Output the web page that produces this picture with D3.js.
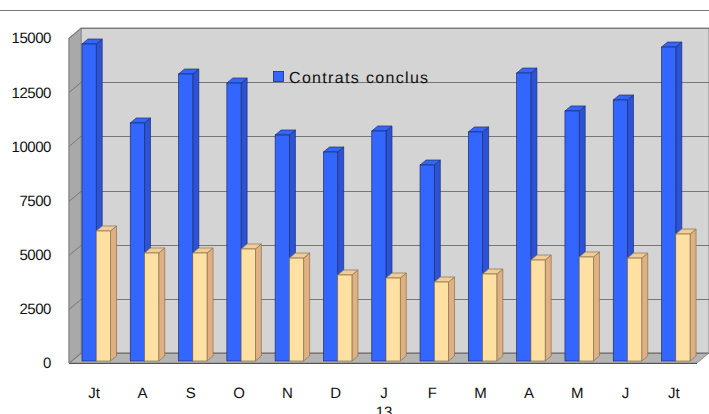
<!DOCTYPE html>
<html><head><meta charset="utf-8">
<script src="https://cdn.jsdelivr.net/npm/d3@7/dist/d3.min.js"></script>
<style>html,body{margin:0;padding:0;background:#fff;overflow:hidden}svg{display:block}text{font-family:"Liberation Sans",Arial,sans-serif;fill:#111;text-rendering:geometricPrecision}</style>
</head><body><script>
const categories=["Jt","A","S","O","N","D","J","F","M","A","M","J","Jt"];
const contrats=[14630,10985,13245,12830,10430,9645,10615,9045,10570,13290,11540,12045,14490];
const second=[6000,4985,4985,5170,4750,3970,3830,3645,4015,4660,4800,4750,5860];
const yTicks=[0,2500,5000,7500,10000,12500,15000];
const legendLabel="Contrats conclus";
const footLabel="13";

const W=709,H=414;
const svg=d3.select("body").append("svg").attr("width",W).attr("height",H);
const L=69,R=697,T=38,B=363,dx=12,dy=10;
const y=d3.scaleLinear().domain([0,15000]).range([B,T]);
const x=d3.scaleBand().domain(d3.range(categories.length)).range([72.3,699.7]).paddingInner(0.41).paddingOuter(0.2);
const sub=d3.scaleBand().domain([0,1]).range([0,x.bandwidth()]);

svg.append("line").attr("x1",0).attr("x2",W).attr("y1",10.5).attr("y2",10.5).attr("stroke","#777").attr("stroke-width",1);

// walls
svg.append("rect").attr("x",L+dx).attr("y",T-dy).attr("width",R-L).attr("height",B-T).attr("fill","#d4d4d4").attr("stroke","#8c8c8c").attr("stroke-width",1);
svg.append("path").attr("d",`M${L},${T}L${L+dx},${T-dy}V${B-dy}L${L},${B}Z`).attr("fill","#a9a9a9").attr("stroke","#8c8c8c");
svg.append("path").attr("d",`M${L},${B}L${L+dx},${B-dy}H${R+dx}L${R},${B}Z`).attr("fill","#b4b4b4").attr("stroke","#8c8c8c");
// gridlines
yTicks.forEach(t=>{
  svg.append("path").attr("fill","none").attr("stroke","#777").attr("stroke-width",1)
    .attr("d",`M${L},${Math.round(y(t))+.5}L${L+dx},${Math.round(y(t)-dy)+.5}H${R+dx}`);
});
svg.append("line").attr("x1",L).attr("x2",R).attr("y1",B+.5).attr("y2",B+.5).attr("stroke","#555");
svg.append("line").attr("x1",L).attr("x2",L).attr("y1",T).attr("y2",B).attr("stroke","#8c8c8c");

// y labels
svg.selectAll("text.yl").data(yTicks).join("text").attr("class","yl")
  .attr("x",51).attr("y",d=>y(d)).attr("dy","0.36em").attr("text-anchor","end")
  .attr("font-size",15).attr("letter-spacing","-0.45px").text(d=>d);

const base=2, d3x=6, d3y=5;
function bar3d(vals,idx,front,side,top,edge){
  const g=svg.append("g");
  vals.forEach((v,i)=>{
    const x0=x(i)+sub(idx), w=sub.bandwidth(), y0=y(v)-base, y1=B-base;
    g.append("path").attr("d",`M${x0+w},${y0}l${d3x},${-d3y}V${y1-d3y}l${-d3x},${d3y}Z`).attr("fill",side).attr("stroke",edge).attr("stroke-width",.7);
    g.append("path").attr("d",`M${x0},${y0}l${d3x},${-d3y}h${w}l${-d3x},${d3y}Z`).attr("fill",top).attr("stroke",edge).attr("stroke-width",.7);
    g.append("rect").attr("x",x0).attr("y",y0).attr("width",w).attr("height",y1-y0).attr("fill",front).attr("stroke",edge).attr("stroke-width",.7);
  });
}
bar3d(contrats,0,"#3366ff","#2c52d8","#3366ff","#1f2f66");
bar3d(second,1,"#ffe0a3","#e0b083","#f2cc96","#85724f");

// x labels
svg.selectAll("text.xl").data(categories).join("text").attr("class","xl")
  .attr("x",(d,i)=>x(i)+x.bandwidth()/2-2).attr("y",398).attr("text-anchor","middle")
  .attr("font-size",15).text(d=>d);
svg.append("text").attr("x",384).attr("y",417).attr("text-anchor","middle").attr("font-size",15).text(footLabel);

// legend
svg.append("rect").attr("x",273.5).attr("y",71.5).attr("width",10).attr("height",10).attr("fill","#3366ff").attr("stroke","#1f2f66").attr("stroke-width",.8);
svg.append("text").attr("x",289).attr("y",83).attr("font-size",16).attr("letter-spacing","1.33px").text(legendLabel);
</script></body></html>
